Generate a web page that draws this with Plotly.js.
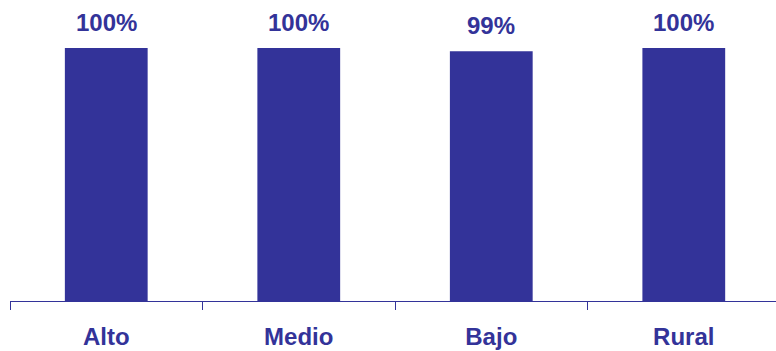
<!DOCTYPE html>
<html>
<head>
<meta charset="utf-8">
<script src="https://cdn.plot.ly/plotly-3.0.1.min.js"></script>
<style>html,body{margin:0;padding:0;background:#fff;}#chart{width:776px;height:351px;}</style>
</head>
<body>
<div id="chart"></div>
<script>
var categories = ["Alto", "Medio", "Bajo", "Rural"];
var values = [100, 100, 98.7, 100];
var valueLabels = ["100%", "100%", "99%", "100%"];

var blue = "#333399";
var font = "Liberation Sans, Arial, Helvetica, sans-serif";

var trace = {
  type: "bar",
  x: categories,
  y: values,
  marker: {color: blue},
  width: 0.43,
  hoverinfo: "none"
};

var annotations = categories.map(function (c, i) {
  return {
    x: c, y: values[i], text: valueLabels[i],
    xref: "x", yref: "y", showarrow: false,
    yanchor: "bottom", yshift: 10,
    font: {family: font, size: 24, color: blue, weight: "bold"}
  };
});

var layout = {
  width: 776, height: 351,
  margin: {l: 10, r: 0, t: 0, b: 50, pad: 0},
  paper_bgcolor: "#fff", plot_bgcolor: "#fff",
  showlegend: false,
  xaxis: {
    type: "category",
    range: [-0.5, 3.479],
    tickson: "boundaries",
    ticks: "outside", ticklen: 8, tickcolor: blue, tickwidth: 1,
    showline: true, linecolor: blue, linewidth: 1,
    showgrid: false, zeroline: false,
    ticklabelstandoff: 14,
    tickfont: {family: font, size: 24, color: blue, weight: "bold"}
  },
  yaxis: {
    range: [0, 119],
    visible: false, showgrid: false, zeroline: false
  },
  annotations: annotations
};

Plotly.newPlot("chart", [trace], layout, {displayModeBar: false, staticPlot: true});
</script>
</body>
</html>
